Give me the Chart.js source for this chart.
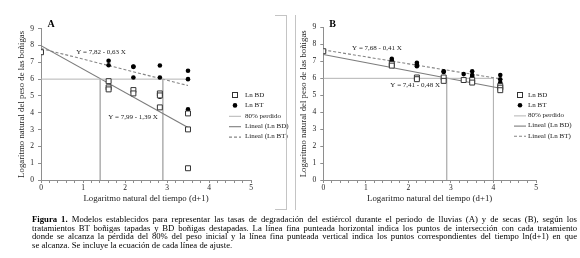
<!DOCTYPE html>
<html>
<head>
<meta charset="utf-8">
<script src="https://cdn.jsdelivr.net/npm/chart.js@4/dist/chart.umd.min.js"></script>
<style>
  body { margin: 0; background: #fff; width: 580px; height: 258px; position: relative; overflow: hidden; font-family: "Liberation Serif", serif; }
  canvas { position: absolute; top: 0; }
  #chartA { left: 0; }
  #chartB { left: 290px; }
  .frame { position: absolute; background: #c4c4c4; }
  .cap { position: absolute; left: 32px; width: 545px; font-size: 8.7px; line-height: 8.6px; color: #000; white-space: nowrap; text-align: justify; text-align-last: justify; opacity: 0.999; will-change: opacity; }
  .cap.last { text-align-last: left; }
</style>
</head>
<body>
<canvas id="chartA" width="290" height="213"></canvas>
<canvas id="chartB" width="290" height="213"></canvas>

<div class="frame" style="left:275px; top:15px; width:11px; height:1px;"></div>
<div class="frame" style="left:286px; top:15px; width:1px; height:195px;"></div>
<div class="frame" style="left:275px; top:209px; width:11px; height:1px;"></div>
<div class="frame" style="left:295px; top:15px; width:1px; height:195px;"></div>

<div class="cap" style="top:215px;"><b>Figura 1.</b> Modelos establecidos para representar las tasas de degradación del estiércol durante el periodo de lluvias (A) y de secas (B), según los</div>
<div class="cap" style="top:223.6px;">tratamientos BT boñigas tapadas y BD boñigas destapadas. La línea fina punteada horizontal indica los puntos de intersección con cada tratamiento</div>
<div class="cap" style="top:232.2px;">donde se alcanza la pérdida del 80% del peso inicial y la línea fina punteada vertical indica los puntos correspondientes del tiempo ln(d+1) en que</div>
<div class="cap last" style="top:240.8px;">se alcanza. Se incluye la ecuación de cada línea de ajuste.</div>

<script>
// axis ticks
const xTickLabels = [0, 1, 2, 3, 4, 5];
const yTickLabels = [0, 1, 2, 3, 4, 5, 6, 7, 8, 9];
const legendLabels = ['Ln BD', 'Ln BT', '80% perdido', 'Lineal (Ln BD)', 'Lineal (Ln BT)'];
const lossLevel = 6;

// Panel A (lluvias)
const aBDx = [0, 1.61, 1.61, 1.61, 2.2, 2.2, 2.83, 2.83, 2.83, 3.5, 3.5, 3.5];
const aBDy = [7.6, 5.88, 5.51, 5.39, 5.35, 5.15, 5.15, 5.03, 4.32, 3.96, 3.01, 0.7];
const aBTx = [0, 1.61, 1.61, 2.2, 2.2, 2.2, 2.83, 2.83, 2.83, 3.5, 3.5, 3.5];
const aBTy = [7.6, 7.09, 6.83, 6.73, 6.75, 6.1, 6.81, 6.1, 4.95, 6.5, 6.0, 4.2];
const aFitBD = [[0, 7.99], [3.5, 3.12]];
const aFitBT = [[0, 7.82], [3.5, 5.62]];
const aCuts = [1.41, 2.9];
const aLossEnd = 3.5;
const aEqBT = 'Y = 7,82 - 0,63 X';
const aEqBD = 'Y = 7,99 - 1,39 X';

// Panel B (secas)
const bBDx = [0, 1.61, 1.61, 2.2, 2.2, 2.83, 2.83, 3.3, 3.5, 3.5, 4.16, 4.16, 4.16];
const bBDy = [7.6, 6.85, 6.75, 6.05, 5.95, 6.05, 5.85, 5.9, 5.9, 5.75, 5.55, 5.45, 5.3];
const bBTx = [0, 1.61, 1.61, 1.61, 2.2, 2.2, 2.2, 2.83, 2.83, 3.3, 3.5, 3.5, 3.5, 4.16, 4.16, 4.16];
const bBTy = [7.6, 7.15, 7.05, 6.98, 6.92, 6.82, 6.72, 6.42, 6.38, 6.25, 6.42, 6.2, 6.1, 6.2, 5.95, 5.75];
const bFitBD = [[0, 7.41], [4.16, 5.41]];
const bFitBT = [[0, 7.68], [4.16, 5.97]];
const bCuts = [2.9, 4.0];
const bLossEnd = 4.0;
const bEqBT = 'Y = 7,68 - 0,41 X';
const bEqBD = 'Y = 7,41 - 0,48 X';

const FONT = '"Liberation Serif", "Times New Roman", serif';
const AXIS = '#8e8e8e';

function pts(xs, ys) {
    return xs.map((x, i) => ({x: x, y: ys[i]}));
}
function pairs(p) {
    return p.map(d => ({x: d[0], y: d[1]}));
}

// draws panel letter, equations and the legend
const panelText = {
    id: 'panelText',
    afterDraw(chart, args, o) {
        const ctx = chart.ctx;
        const xs = chart.scales.x;
        const ys = chart.scales.y;
        ctx.save();
        ctx.fillStyle = '#000';
        ctx.font = 'bold 10px ' + FONT;
        ctx.textAlign = 'center';
        ctx.textBaseline = 'middle';
        ctx.fillText(o.letter, o.letterPos[0], o.letterPos[1]);

        ctx.font = '7px ' + FONT;
        ctx.fillStyle = '#1a1a1a';
        o.equations.forEach(e => {
            ctx.fillText(e.text, xs.getPixelForValue(e.x), ys.getPixelForValue(e.y));
        });

        // legend
        ctx.textAlign = 'left';
        ctx.font = '7px ' + FONT;
        const sets = chart.data.datasets.filter(d => legendLabels.includes(d.label));
        sets.forEach((d, i) => {
            const y = o.legendY + i * o.legendStep;
            const cx = o.legendX + 6;
            ctx.save();
            if (d.showLine) {
                ctx.strokeStyle = d.borderColor;
                ctx.lineWidth = d.borderWidth;
                ctx.setLineDash(d.borderDash || []);
                ctx.beginPath();
                ctx.moveTo(o.legendX, y + 0.5);
                ctx.lineTo(o.legendX + 12, y + 0.5);
                ctx.stroke();
            } else if (d.pointStyle === 'rect') {
                ctx.fillStyle = d.backgroundColor;
                ctx.strokeStyle = d.borderColor;
                ctx.lineWidth = 1;
                ctx.fillRect(cx - 2.5, y - 2.5, 5, 5);
                ctx.strokeRect(cx - 2.5, y - 2.5, 5, 5);
            } else {
                ctx.fillStyle = d.backgroundColor;
                ctx.beginPath();
                ctx.arc(cx, y, d.pointRadius, 0, Math.PI * 2);
                ctx.fill();
            }
            ctx.restore();
            ctx.fillStyle = '#1a1a1a';
            ctx.fillText(d.label, o.textX, y);
        });
        ctx.restore();
    }
};

function makePanel(id, p) {
    const datasets = [
        {
            label: legendLabels[0],
            data: pts(p.bdX, p.bdY),
            pointStyle: 'rect',
            pointRadius: 3.5,
            backgroundColor: '#fff',
            borderColor: '#333',
            borderWidth: 1
        },
        {
            label: legendLabels[1],
            data: pts(p.btX, p.btY),
            pointStyle: 'circle',
            pointRadius: 2.3,
            backgroundColor: '#000',
            borderColor: '#000',
            borderWidth: 0
        },
        {
            label: legendLabels[2],
            data: [{x: 0, y: lossLevel}, {x: p.lossEnd, y: lossLevel}],
            showLine: true,
            borderColor: '#b4b4b4',
            borderWidth: 1,
            pointRadius: 0
        },
        {
            label: legendLabels[3],
            data: pairs(p.fitBD),
            showLine: true,
            borderColor: '#7c7c7c',
            borderWidth: 1.1,
            pointRadius: 0
        },
        {
            label: legendLabels[4],
            data: pairs(p.fitBT),
            showLine: true,
            borderColor: '#858585',
            borderWidth: 1.1,
            borderDash: [3, 2],
            pointRadius: 0
        }
    ];
    p.cuts.forEach(c => {
        datasets.push({
            label: '',
            data: [{x: c, y: lossLevel}, {x: c, y: 0}],
            showLine: true,
            borderColor: '#b4b4b4',
            borderWidth: 1,
            pointRadius: 0
        });
    });

    return new Chart(document.getElementById(id), {
        type: 'scatter',
        data: {datasets: datasets},
        options: {
            responsive: false,
            animation: false,
            events: [],
            layout: {
                padding: {left: 0, top: p.top, right: p.right, bottom: 0}
            },
            plugins: {
                legend: {display: false},
                tooltip: {enabled: false},
                panelText: p.text
            },
            scales: {
                x: {
                    type: 'linear',
                    min: xTickLabels[0],
                    max: xTickLabels[xTickLabels.length - 1],
                    afterFit: s => { s.height = 33; },
                    border: {color: AXIS},
                    grid: {drawOnChartArea: false, tickLength: 3, color: AXIS},
                    ticks: {
                        stepSize: 0.2,
                        autoSkip: false,
                        maxRotation: 0,
                        padding: 1,
                        color: '#222',
                        font: {family: FONT, size: 7.5},
                        callback: v => {
                            const r = Math.round(v);
                            return Math.abs(v - r) < 1e-6 && xTickLabels.includes(r) ? String(r) : '';
                        }
                    },
                    title: {
                        display: true,
                        text: 'Logaritmo natural del tiempo (d+1)',
                        color: '#222',
                        font: {family: FONT, size: 8.8},
                        padding: {top: 0, bottom: 9}
                    }
                },
                y: {
                    min: yTickLabels[0],
                    max: yTickLabels[yTickLabels.length - 1],
                    afterFit: s => { s.width = p.left; },
                    border: {color: AXIS},
                    grid: {drawOnChartArea: false, tickLength: 3, color: AXIS},
                    ticks: {
                        stepSize: 1,
                        padding: 4,
                        color: '#222',
                        font: {family: FONT, size: 7.5}
                    },
                    title: {
                        display: true,
                        text: 'Logaritmo natural del peso de las boñigas',
                        color: '#222',
                        font: {family: FONT, size: 8.8},
                        padding: {top: p.titlePad, bottom: 0}
                    }
                }
            }
        },
        plugins: [panelText]
    });
}

makePanel('chartA', {
    bdX: aBDx, bdY: aBDy, btX: aBTx, btY: aBTy,
    fitBD: aFitBD, fitBT: aFitBT, cuts: aCuts, lossEnd: aLossEnd,
    left: 41, top: 28.7, right: 39, titlePad: 16.5,
    text: {
        letter: 'A', letterPos: [51, 24],
        equations: [{text: aEqBT, x: 1.43, y: 7.58}, {text: aEqBD, x: 2.19, y: 3.74}],
        legendX: 229, textX: 245, legendY: 95, legendStep: 10.4
    }
});

makePanel('chartB', {
    bdX: bBDx, bdY: bBDy, btX: bBTx, btY: bBTy,
    fitBD: bFitBD, fitBT: bFitBT, cuts: bCuts, lossEnd: bLossEnd,
    left: 33.3, top: 27.5, right: 44, titlePad: 8,
    text: {
        letter: 'B', letterPos: [42.5, 24],
        equations: [{text: bEqBT, x: 1.26, y: 7.78}, {text: bEqBD, x: 2.16, y: 5.6}],
        legendX: 224, textX: 238, legendY: 95, legendStep: 10.2
    }
});
</script>
</body>
</html>
